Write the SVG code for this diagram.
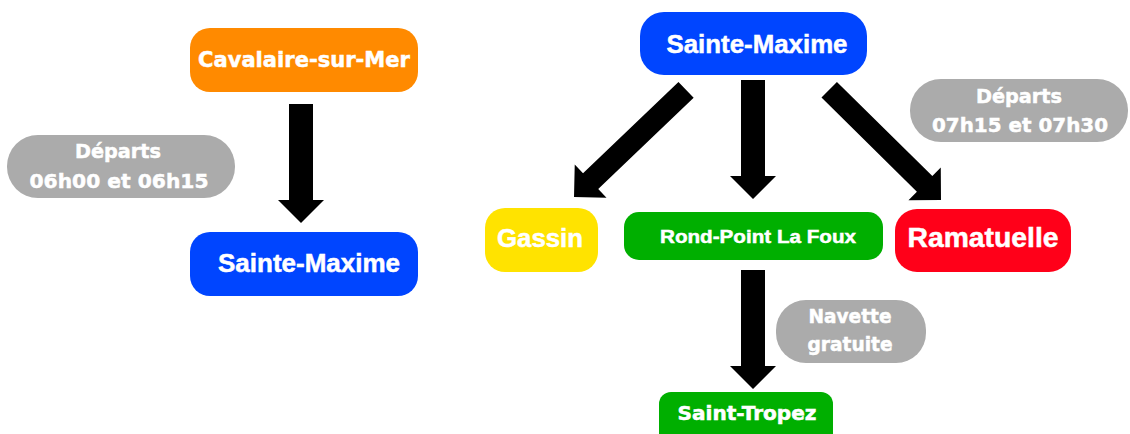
<svg xmlns="http://www.w3.org/2000/svg" width="1130" height="434" viewBox="0 0 1130 434">
<style>
.t{fill:#fff;font-weight:bold;text-anchor:middle;stroke:#fff;stroke-width:0.5}
.v{font-family:"DejaVu Sans",Verdana,sans-serif}
.a{font-family:"Liberation Sans",Arial,sans-serif}
.arrow{fill:#000}
</style>
<rect width="1130" height="434" fill="#fff"/>
<g id="connectors">
<g transform="translate(301,223)"><polygon class="arrow" points="-12,-119 12,-119 12,-23 23,-23 0,0 -23,-23 -12,-23"/></g>
<g transform="translate(753,199)"><polygon class="arrow" points="-12,-119 12,-119 12,-23 23,-23 0,0 -23,-23 -12,-23"/></g>
<g transform="translate(753,389)"><polygon class="arrow" points="-12,-119 12,-119 12,-23 23,-23 0,0 -23,-23 -12,-23"/></g>
<g transform="translate(574,197) rotate(46.3)"><polygon class="arrow" points="-11,-155 11,-155 11,-23 23,-23 0,0 -23,-23 -11,-23"/></g>
<g transform="translate(941,200) rotate(-45.4)"><polygon class="arrow" points="-11,-157 11,-157 11,-23 23,-23 0,0 -23,-23 -11,-23"/></g>
</g>
<g id="cavalaire">
<rect x="190" y="28" width="228" height="64" rx="20" fill="#FF8A00"/>
<text class="t v" x="304" y="67" font-size="21" textLength="212" lengthAdjust="spacingAndGlyphs">Cavalaire-sur-Mer</text>
</g>
<g id="departs-left">
<rect x="7" y="135" width="228" height="63" rx="31" fill="#ABABAB"/>
<text class="t v" x="118" y="158" font-size="20" textLength="86" lengthAdjust="spacingAndGlyphs">Départs</text>
<text class="t v" x="119" y="188" font-size="20" textLength="179" lengthAdjust="spacingAndGlyphs">06h00 et 06h15</text>
</g>
<g id="sainte-maxime-left">
<rect x="190" y="232" width="228" height="64" rx="20" fill="#0045FF"/>
<text class="t a" x="309" y="272" font-size="26" textLength="182" lengthAdjust="spacingAndGlyphs">Sainte-Maxime</text>
</g>
<g id="sainte-maxime-top">
<rect x="640" y="12" width="227" height="63" rx="24" fill="#0045FF"/>
<text class="t a" x="757" y="53" font-size="26" textLength="181" lengthAdjust="spacingAndGlyphs">Sainte-Maxime</text>
</g>
<g id="departs-right">
<rect x="910" y="79" width="218" height="63" rx="31" fill="#ABABAB"/>
<text class="t v" x="1019" y="103" font-size="20" textLength="86" lengthAdjust="spacingAndGlyphs">Départs</text>
<text class="t v" x="1020" y="132" font-size="20" textLength="176" lengthAdjust="spacingAndGlyphs">07h15 et 07h30</text>
</g>
<g id="gassin">
<rect x="485" y="208" width="113" height="64" rx="20" fill="#FFE300"/>
<text class="t a" x="540" y="247" font-size="26" textLength="86" lengthAdjust="spacingAndGlyphs">Gassin</text>
</g>
<g id="rond-point">
<rect x="624" y="212" width="259" height="48" rx="15" fill="#00AF00"/>
<text class="t a" x="758" y="243" font-size="19" textLength="196" lengthAdjust="spacingAndGlyphs">Rond-Point La Foux</text>
</g>
<g id="ramatuelle">
<rect x="895" y="209" width="176" height="63" rx="22" fill="#FF0019"/>
<text class="t a" x="983" y="247" font-size="27" textLength="151" lengthAdjust="spacingAndGlyphs">Ramatuelle</text>
</g>
<g id="navette">
<rect x="776" y="300" width="150" height="63" rx="30" fill="#ABABAB"/>
<text class="t v" x="850" y="323" font-size="19" textLength="83" lengthAdjust="spacingAndGlyphs">Navette</text>
<text class="t v" x="850" y="351" font-size="19" textLength="85" lengthAdjust="spacingAndGlyphs">gratuite</text>
</g>
<g id="saint-tropez">
<rect x="659" y="392" width="174" height="60" rx="12" fill="#00AF00"/>
<text class="t v" x="747" y="420" font-size="19" textLength="139" lengthAdjust="spacingAndGlyphs">Saint-Tropez</text>
</g>
</svg>
